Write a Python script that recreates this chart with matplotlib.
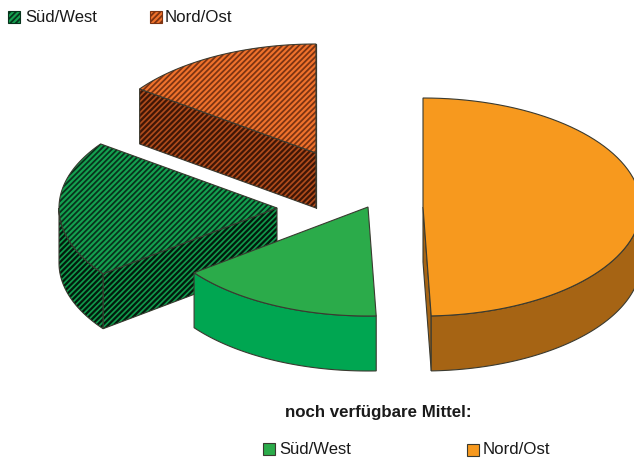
import numpy as np
import matplotlib
matplotlib.use("Agg")
from matplotlib import pyplot as plt
from matplotlib.patches import Polygon, Rectangle

plt.rcParams["font.family"] = ["Liberation Sans", "DejaVu Sans"]

# share of the pie in percent, clockwise from 12 o'clock
slice_names = ["Nord/Ost frei", "Süd/West frei", "Süd/West", "Nord/Ost"]
slice_values = [49.4, 15.3, 20.3, 15.0]

legend_top = ["Süd/West", "Nord/Ost"]
legend_bottom = ["Süd/West", "Nord/Ost"]
legend_title = "noch verfügbare Mittel:"

# picture is laid out in pixels, y going down
RX, RY, DEPTH = 218, 109, 55
apex = {
    "Nord/Ost frei": (423, 207),
    "Süd/West frei": (368, 207),
    "Süd/West": (277, 208),
    "Nord/Ost": (316, 153),
}
style = {
    "Nord/Ost frei": dict(top="#f7991e", side="#a66414"),
    "Süd/West frei": dict(top="#2bab4a", side="#00a651"),
    "Süd/West": dict(top="#14a04f", side="#119a4c", ink="#07331c", ink_side="#021a0c"),
    "Nord/Ost": dict(top="#f0722c", side="#b04c1c", ink="#7d3412", ink_side="#3f1606"),
}
EDGE = "#3a3a30"
HATCH = "//////"


def arc(cx, cy, start, end, n=80):
    t = np.radians(np.linspace(start, end, n))
    return np.column_stack([cx + RX * np.sin(t), cy - RY * np.cos(t)])


def face(ax, pts, color, ink=None, lw=0.8, hatch_lw=1.3):
    plt.rcParams["hatch.linewidth"] = hatch_lw
    if ink:
        ax.add_patch(Polygon(pts, closed=True, facecolor=color, edgecolor=ink, hatch=HATCH, lw=0))
        ax.add_patch(Polygon(pts, closed=True, fill=False, edgecolor=EDGE, lw=lw))
    else:
        ax.add_patch(Polygon(pts, closed=True, facecolor=color, edgecolor=EDGE, lw=lw))


def draw_slice(ax, name, start, end):
    cx, cy = apex[name]
    st = style[name]
    ink = st.get("ink")
    ink_side = st.get("ink_side")
    down = np.array([0, DEPTH])
    centre = np.array([cx, cy])

    # cut faces, only the ones that look towards us
    for ang in (start, end):
        rim = arc(cx, cy, ang, ang, 1)[0]
        if 180 < ang < 360 and ang == end or ang < 180 and ang == start:
            continue
        pts = np.array([centre, rim, rim + down, centre + down])
        face(ax, pts, st["side"], ink_side, hatch_lw=1.6)

    # outer wall, lower half of the ellipse
    lo, hi = max(start, 90), min(end, 270)
    if lo < hi:
        edge = arc(cx, cy, lo, hi)
        pts = np.vstack([edge, (edge + down)[::-1]])
        face(ax, pts, st["side"], ink_side, hatch_lw=1.6)

    pts = np.vstack([centre, arc(cx, cy, start, end)])
    face(ax, pts, st["top"], ink)


fig = plt.figure(figsize=(6.34, 4.58), dpi=100)
ax = fig.add_axes([0, 0, 1, 1])
ax.set_xlim(0, 634)
ax.set_ylim(458, 0)
ax.axis("off")

edges = np.cumsum([0] + slice_values) / sum(slice_values) * 360
spans = {n: (edges[i], edges[i + 1]) for i, n in enumerate(slice_names)}
for name in ["Nord/Ost", "Süd/West", "Süd/West frei", "Nord/Ost frei"]:
    draw_slice(ax, name, *spans[name])

# legends
plt.rcParams["hatch.linewidth"] = 1.3
ax.add_patch(Rectangle((8, 11), 12, 12, facecolor=style["Süd/West"]["top"],
                       edgecolor=style["Süd/West"]["ink"], hatch=HATCH, lw=0.8))
ax.add_patch(Rectangle((150, 11), 12, 12, facecolor=style["Nord/Ost"]["top"],
                       edgecolor=style["Nord/Ost"]["ink"], hatch=HATCH, lw=0.8))
ax.add_patch(Rectangle((263, 443), 12, 12, facecolor=style["Süd/West frei"]["top"], edgecolor=EDGE, lw=0.8))
ax.add_patch(Rectangle((467, 444), 12, 12, facecolor=style["Nord/Ost frei"]["top"], edgecolor=EDGE, lw=0.8))

ax.text(25, 17, legend_top[0], fontsize=12, va="center", color="#1a1a1a")
ax.text(165, 17, legend_top[1], fontsize=12.2, va="center", color="#1a1a1a")
ax.text(279, 449, legend_bottom[0], fontsize=12, va="center", color="#1a1a1a")
ax.text(483, 450, legend_bottom[1], fontsize=12.2, va="center", color="#1a1a1a")
ax.text(285, 412, legend_title, fontsize=12.2, fontweight="bold", va="center", color="#1a1a1a")

fig.savefig("out.png", dpi=100)
